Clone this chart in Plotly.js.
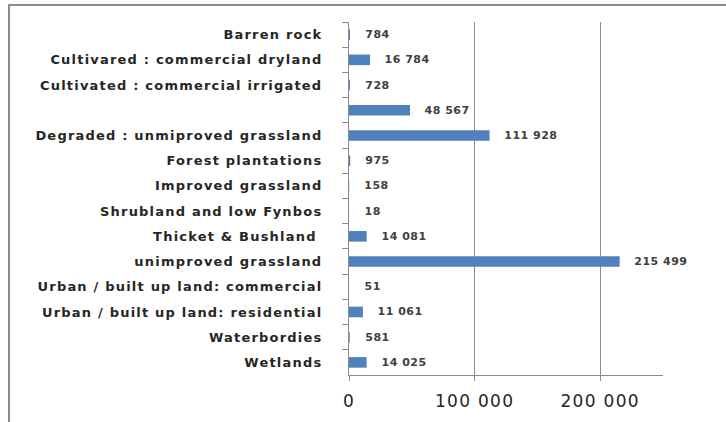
<!DOCTYPE html>
<html>
<head>
<meta charset="utf-8">
<script src="https://cdn.plot.ly/plotly-3.0.1.min.js"></script>
<style>
  html, body { margin: 0; padding: 0; background: #ffffff; }
  #wrap { position: relative; width: 726px; height: 422px; overflow: hidden; }
  #chart { position: absolute; left: 0; top: 0; width: 726px; height: 422px; }
  #frame { position: absolute; left: 8px; top: 4px; width: 760px; height: 460px;
           border-left: 2px solid #8c8c8c; border-top: 2px solid #8c8c8c; pointer-events: none; }
  #chart .ytick text { letter-spacing: 1.2px; }
  #chart .xtick text { letter-spacing: 1.3px; }
  #chart .annotation-text { letter-spacing: 0.5px; }
</style>
</head>
<body>
<div id="wrap">
  <div id="chart"></div>
  <div id="frame"></div>
</div>
<script>
// Data
const categories = [
  "Barren rock",
  "Cultivared : commercial dryland",
  "Cultivated : commercial irrigated",
  "\u00a0",
  "Degraded : unmiproved grassland",
  "Forest plantations",
  "Improved grassland",
  "Shrubland and low Fynbos",
  "Thicket & Bushland ",
  "unimproved grassland",
  "Urban / built up land: commercial",
  "Urban / built up land: residential",
  "Waterbordies",
  "Wetlands"
];
const values = [784, 16784, 728, 48567, 111928, 975, 158, 18, 14081, 215499, 51, 11061, 581, 14025];
const xTickVals = [0, 100000, 200000];

function fmt(v) {
  return String(v).replace(/\B(?=(\d{3})+(?!\d))/g, " ");
}

const trace = {
  type: "bar",
  orientation: "h",
  y: categories,
  x: values,
  marker: { color: "#4F81BD", line: { width: 0 } },
  width: 0.42,
  hoverinfo: "skip"
};

const annotations = categories.map((c, i) => ({
  x: values[i],
  y: c,
  xref: "x",
  yref: "y",
  text: fmt(values[i]),
  showarrow: false,
  xanchor: "left",
  yanchor: "middle",
  xshift: 14,
  font: { family: "DejaVu Sans", size: 11, color: "#404040", weight: "bold" }
}));

const layout = {
  width: 726,
  height: 422,
  margin: { l: 349, r: 63, t: 22, b: 47, pad: 0 },
  paper_bgcolor: "rgba(0,0,0,0)",
  plot_bgcolor: "rgba(0,0,0,0)",
  showlegend: false,
  separators: ". ",
  font: { family: "DejaVu Sans", color: "#262626" },
  xaxis: {
    range: [0, 250000],
    tickmode: "array",
    tickvals: xTickVals,
    tickformat: ",d",
    showgrid: true,
    gridcolor: "#8c8c8c",
    gridwidth: 1,
    zeroline: false,
    showline: true,
    linecolor: "#8c8c8c",
    linewidth: 1,
    ticks: "outside",
    ticklen: 5,
    tickcolor: "#8c8c8c",
    ticklabelstandoff: 6,
    tickfont: { family: "DejaVu Sans", size: 17, color: "#262626" },
    fixedrange: true
  },
  yaxis: {
    type: "category",
    categoryorder: "array",
    categoryarray: categories,
    autorange: "reversed",
    showgrid: false,
    zeroline: false,
    showline: true,
    linecolor: "#8c8c8c",
    linewidth: 1,
    ticks: "outside",
    tickson: "boundaries",
    ticklen: 6,
    tickcolor: "#8c8c8c",
    ticklabelstandoff: 23,
    tickfont: { family: "DejaVu Sans", size: 13, color: "#262626", weight: "bold" },
    fixedrange: true
  },
  annotations: annotations,
  bargap: 0.58
};

Plotly.newPlot("chart", [trace], layout, { displayModeBar: false, staticPlot: true });
</script>
</body>
</html>
